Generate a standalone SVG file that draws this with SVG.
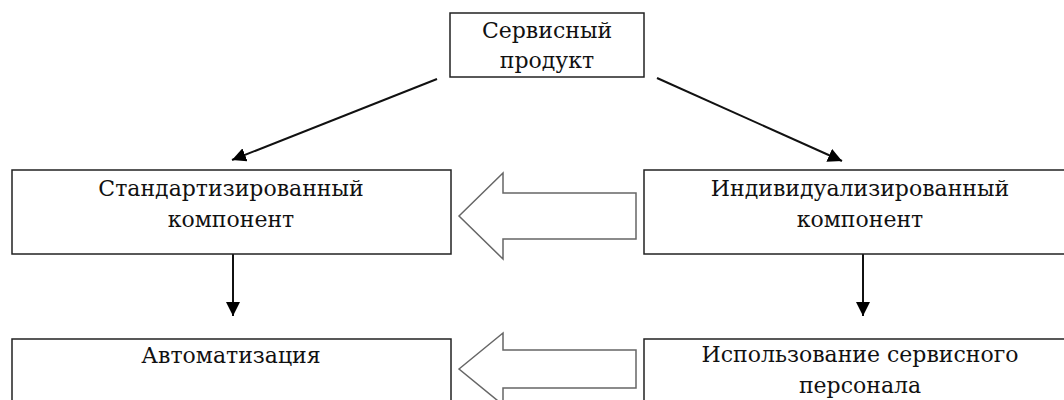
<svg xmlns="http://www.w3.org/2000/svg" width="1064" height="400" viewBox="0 0 1064 400">
<style>
.box{fill:#fff;stroke:#222;stroke-width:1.5}
.t{font-family:'DejaVu Serif',serif;font-size:22px;fill:#111;text-anchor:middle}
.ln{stroke:#111;stroke-width:2;fill:none}
.big{fill:#fff;stroke:#666;stroke-width:1.5}
</style>
<defs>
<marker id="ahs" viewBox="0 0 10 10" refX="10" refY="5" markerWidth="14" markerHeight="14" markerUnits="userSpaceOnUse" orient="auto">
<path d="M0,0 L10,5 L0,10 z" fill="#000"/>
</marker>
</defs>
<rect width="1064" height="400" fill="#fff"/>
<g id="connectors">
<line class="ln" x1="437" y1="79" x2="232" y2="160" marker-end="url(#ahs)"/>
<line class="ln" x1="657" y1="78" x2="842" y2="161" marker-end="url(#ahs)"/>
<line class="ln" x1="233" y1="254" x2="233" y2="316" marker-end="url(#ahs)"/>
<line class="ln" x1="863" y1="254" x2="863" y2="316" marker-end="url(#ahs)"/>
<path class="big" d="M459,216 L503,173 L503,193 L636,193 L636,239 L503,239 L503,259 Z"/>
<path class="big" d="M459,369 L503,333 L503,350 L636,350 L636,388 L503,388 L503,405 Z"/>
</g>
<g id="node-service">
<rect class="box" x="450" y="13" width="194" height="64"/>
<text class="t" x="547" y="38">Сервисный</text>
<text class="t" x="547" y="68">продукт</text>
</g>
<g id="node-standard">
<rect class="box" x="12" y="170" width="439" height="84"/>
<text class="t" x="231" y="196">Стандартизированный</text>
<text class="t" x="231" y="227">компонент</text>
</g>
<g id="node-individual">
<rect class="box" x="644" y="170" width="432" height="84"/>
<text class="t" x="860" y="196">Индивидуализированный</text>
<text class="t" x="860" y="227">компонент</text>
</g>
<g id="node-automation">
<rect class="box" x="12" y="339" width="439" height="84"/>
<text class="t" x="231" y="363">Автоматизация</text>
</g>
<g id="node-personnel">
<rect class="box" x="644" y="339" width="432" height="84"/>
<text class="t" x="860" y="362">Использование сервисного</text>
<text class="t" x="860" y="393">персонала</text>
</g>
</svg>
